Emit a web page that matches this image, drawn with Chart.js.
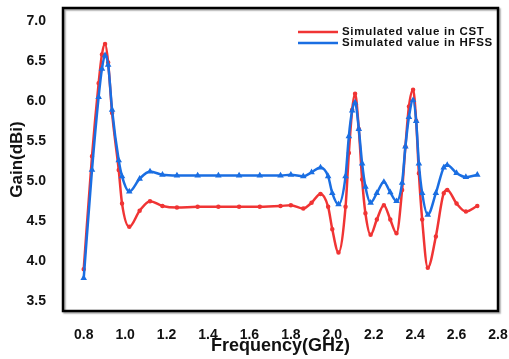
<!DOCTYPE html>
<html lang="en">
<head>
<meta charset="UTF-8">
<title>Gain vs Frequency</title>
<script src="https://cdn.jsdelivr.net/npm/chart.js"></script>
<style>
  html, body { margin: 0; padding: 0; background: #fff; overflow: hidden; }
  .chart-box { position: relative; width: 509px; height: 359px; }
</style>
</head>
<body>
<div class="chart-box"><canvas id="gainChart"></canvas></div>
<script>
// frequency points (GHz), shared by both curves
const freqGHz = [0.80, 0.84, 0.872, 0.888, 0.903, 0.918, 0.937, 0.969, 0.985, 1.02,
                 1.07, 1.12, 1.18, 1.25, 1.35, 1.45, 1.55, 1.65, 1.75, 1.80,
                 1.86, 1.90, 1.943, 1.98, 2.00, 2.03, 2.064, 2.08, 2.096, 2.11,
                 2.128, 2.144, 2.16, 2.185, 2.215, 2.249, 2.28, 2.31, 2.337, 2.353,
                 2.37, 2.39, 2.405, 2.418, 2.434, 2.461, 2.50, 2.538, 2.555, 2.60,
                 2.645, 2.70];
const gainCST  = [3.90, 5.31, 6.22, 6.58, 6.71, 6.48, 5.85, 5.14, 4.72, 4.43,
                  4.63, 4.75, 4.69, 4.67, 4.68, 4.68, 4.68, 4.68, 4.69, 4.70,
                  4.66, 4.73, 4.84, 4.68, 4.40, 4.11, 4.68, 5.35, 5.89, 6.09,
                  5.65, 5.02, 4.60, 4.33, 4.52, 4.70, 4.52, 4.35, 4.89, 5.43,
                  5.93, 6.14, 5.75, 5.10, 4.52, 3.92, 4.31, 4.85, 4.89, 4.72,
                  4.62, 4.69];
const gainHFSS = [3.79, 5.14, 6.05, 6.40, 6.57, 6.45, 5.89, 5.26, 5.06, 4.87,
                  5.03, 5.12, 5.08, 5.07, 5.07, 5.07, 5.07, 5.07, 5.07, 5.08,
                  5.06, 5.11, 5.17, 5.06, 4.85, 4.71, 5.06, 5.56, 5.88, 5.98,
                  5.65, 5.22, 4.93, 4.73, 4.85, 4.99, 4.86, 4.75, 4.98, 5.43,
                  5.80, 6.01, 5.75, 5.22, 4.85, 4.58, 4.85, 5.17, 5.20, 5.10,
                  5.05, 5.08];
const seriesNames = ['Simulated value in CST', 'Simulated value in HFSS'];
const xTicks = [0.8, 1.0, 1.2, 1.4, 1.6, 1.8, 2.0, 2.2, 2.4, 2.6, 2.8];
const yTicks = [3.5, 4.0, 4.5, 5.0, 5.5, 6.0, 6.5, 7.0];

const FONT = "'Liberation Sans', Arial, sans-serif";
const RED = 'rgb(240, 52, 52)';
const BLUE = 'rgb(26, 110, 226)';

function toPoints(ys) {
    return freqGHz.map((f, i) => ({ x: f, y: ys[i] }));
}

// black box around the plot area with a soft shadow
const frameBox = {
    id: 'frameBox',
    afterDatasetsDraw(chart) {
        const { ctx, chartArea: a } = chart;
        ctx.save();
        ctx.shadowColor = 'rgba(0,0,0,0.35)';
        ctx.shadowOffsetX = 1.5;
        ctx.shadowOffsetY = 1.5;
        ctx.shadowBlur = 1.5;
        ctx.strokeStyle = '#000';
        ctx.lineWidth = 2.5;
        ctx.strokeRect(a.left, a.top, a.right - a.left, a.bottom - a.top);
        ctx.restore();
    }
};

// legend drawn inside the top right corner
const insideLegend = {
    id: 'insideLegend',
    afterDraw(chart) {
        const { ctx, chartArea: a } = chart;
        ctx.save();
        ctx.font = 'bold 11.5px ' + FONT;
        ctx.letterSpacing = '0.7px';
        ctx.textBaseline = 'middle';
        ctx.textAlign = 'left';
        ctx.fillStyle = '#111';
        chart.data.datasets.forEach((ds, i) => {
            const y = a.top + 24 + i * 11;
            ctx.strokeStyle = ds.borderColor;
            ctx.lineWidth = 2.5;
            ctx.beginPath();
            ctx.moveTo(a.right - 200, y);
            ctx.lineTo(a.right - 160, y);
            ctx.stroke();
            ctx.fillText(ds.label, a.right - 156, y);
        });
        ctx.restore();
    }
};

new Chart(document.getElementById('gainChart'), {
    type: 'line',
    data: {
        datasets: [{
            label: seriesNames[0],
            data: toPoints(gainCST),
            borderColor: RED,
            backgroundColor: RED,
            borderWidth: 2.5,
            pointStyle: 'circle',
            pointRadius: 1,
            cubicInterpolationMode: 'monotone',
            order: 2
        }, {
            label: seriesNames[1],
            data: toPoints(gainHFSS),
            borderColor: BLUE,
            backgroundColor: BLUE,
            borderWidth: 2.5,
            pointStyle: 'triangle',
            pointRadius: 1.3,
            cubicInterpolationMode: 'monotone',
            order: 1
        }]
    },
    options: {
        responsive: true,
        maintainAspectRatio: false,
        animation: false,
        layout: { padding: { top: 0, right: 11, left: 0, bottom: 0 } },
        plugins: {
            legend: { display: false },
            tooltip: { enabled: false }
        },
        scales: {
            x: {
                type: 'linear',
                min: 0.7,
                max: 2.8,
                grid: { display: false },
                border: { display: false },
                afterBuildTicks: (s) => { s.ticks = xTicks.map(v => ({ value: v })); },
                afterFit: (s) => {
                    s.height = 48;
                    s.paddingLeft = 0;
                    s.paddingRight = 0;
                },
                ticks: {
                    padding: 8,
                    color: '#111',
                    font: { family: FONT, size: 14, weight: 'bold' },
                    callback: (v) => v.toFixed(1)
                },
                title: {
                    display: true,
                    text: 'Frequency(GHz)',
                    color: '#111',
                    padding: { top: 0, bottom: 2 },
                    font: { family: FONT, size: 18, weight: 'bold' }
                }
            },
            y: {
                min: 3.38,
                max: 7.16,
                grid: { display: false },
                border: { display: false },
                afterBuildTicks: (s) => { s.ticks = yTicks.map(v => ({ value: v })); },
                afterFit: (s) => {
                    s.width = 63;
                    s.paddingTop = 8;
                    s.paddingBottom = 0;
                },
                ticks: {
                    padding: 9,
                    color: '#111',
                    font: { family: FONT, size: 14, weight: 'bold' },
                    callback: (v) => v.toFixed(1)
                },
                title: {
                    display: true,
                    text: 'Gain(dBi)',
                    color: '#111',
                    padding: { top: 7, bottom: 0 },
                    font: { family: FONT, size: 17, weight: 'bold' }
                }
            }
        }
    },
    plugins: [frameBox, insideLegend]
});
</script>
</body>
</html>
